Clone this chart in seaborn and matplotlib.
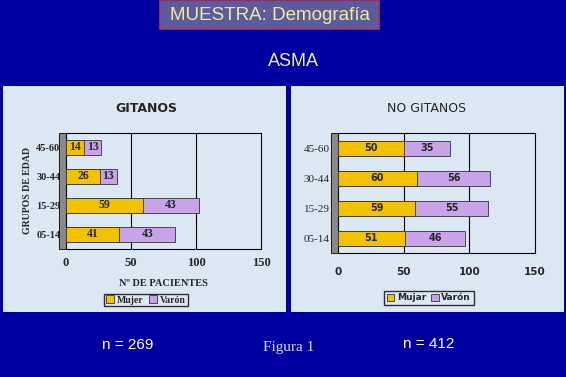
import numpy as np
import pandas as pd
import matplotlib
matplotlib.use('Agg')
import matplotlib.pyplot as plt
from matplotlib.patches import Rectangle
import seaborn as sns

# datos
grupos = ['45-60', '30-44', '15-29', '05-14']
gitanos_mujer = [14, 26, 59, 41]
gitanos_varon = [13, 13, 43, 43]
nogit_mujer = [50, 60, 59, 51]
nogit_varon = [35, 56, 55, 46]
ticks_x = [0, 50, 100, 150]

c_mujer = '#f2c200'
c_varon = '#c9a3ea'
fondo = '#0000a0'
panel = '#dce7f4'

sns.set_style('white')
plt.rcParams['font.family'] = ['DejaVu Sans']

fig = plt.figure(figsize=(5.66, 3.77), dpi=100)
fig.patch.set_facecolor(fondo)

W, H = 566.0, 377.0
def rect(x0, y0, x1, y1):
    return [x0 / W, 1 - y1 / H, (x1 - x0) / W, (y1 - y0) / H]

# paneles de fondo
for (x0, y0, x1, y1) in [(3, 86, 286, 312), (291, 86, 564, 312)]:
    r = rect(x0, y0, x1, y1)
    fig.patches.append(Rectangle((r[0], r[1]), r[2], r[3], transform=fig.transFigure,
                                 facecolor=panel, edgecolor='none', zorder=-5))

# cabecera
r = rect(160, 1, 379, 29)
fig.patches.append(Rectangle((r[0], r[1]), r[2], r[3], transform=fig.transFigure,
                             facecolor='#5c5c9c', edgecolor='#a04060', lw=1.2, zorder=-5))
fig.text(270 / W, 1 - 15 / H, 'MUESTRA: Demografía', ha='center', va='center',
         color='#eeee99', fontsize=13.5, family='Liberation Sans')
fig.text(293 / W, 1 - 61 / H, 'ASMA', ha='center', va='center',
         color='#eeee99', fontsize=13, family='Liberation Sans')


def dibuja(ax, mujer, varon, fnt_val, sz_val):
    df = pd.DataFrame({'grupo': grupos, 'Mujer': mujer, 'Varón': varon})
    df['total'] = df['Mujer'] + df['Varón']
    ax.set_facecolor('none')
    sns.barplot(data=df, y='grupo', x='total', color=c_varon, width=0.5,
                edgecolor='#333333', linewidth=0.6, saturation=1, ax=ax, zorder=3)
    sns.barplot(data=df, y='grupo', x='Mujer', color=c_mujer, width=0.5,
                edgecolor='#333333', linewidth=0.6, saturation=1, ax=ax, zorder=4)
    for i, row in df.iterrows():
        ax.text(row['Mujer'] / 2, i, str(row['Mujer']), ha='center', va='center',
                fontsize=sz_val, fontweight='bold', family=fnt_val, zorder=5)
        ax.text(row['Mujer'] + row['Varón'] / 2, i, str(row['Varón']), ha='center',
                va='center', fontsize=sz_val, fontweight='bold', family=fnt_val, zorder=5)
    ax.set_xlim(0, 150)
    ax.set_ylim(3.5, -0.5)
    ax.set_xticks(ticks_x)
    for v in [50, 100]:
        ax.axvline(v, color='black', lw=0.8, zorder=1)
    for s in ax.spines.values():
        s.set_color('black')
        s.set_linewidth(0.8)
    ax.add_patch(Rectangle((-0.035, 0), 0.035, 1, transform=ax.transAxes,
                           facecolor='#8a8a8a', edgecolor='black', lw=0.6, clip_on=False))
    ax.tick_params(axis='both', length=0, pad=6)
    ax.set_xlabel('')
    ax.set_ylabel('')
    return df


# GITANOS
ax1 = fig.add_axes(rect(66, 133, 261, 249))
dibuja(ax1, gitanos_mujer, gitanos_varon, 'Liberation Serif', 8.5)
ax1.set_xticklabels([str(t) for t in ticks_x], family='Liberation Serif',
                    fontweight='bold', fontsize=9)
ax1.set_yticklabels(grupos, family='Liberation Serif', fontweight='bold', fontsize=7.5)
ax1.tick_params(axis='y', pad=4)
ax1.set_title('GITANOS', fontsize=9, fontweight='bold', pad=15, x=0.41)
ax1.set_xlabel('Nº DE PACIENTES', family='Liberation Serif', fontweight='bold',
               fontsize=7.5, labelpad=7)
ax1.set_ylabel('GRUPOS DE EDAD', family='Liberation Serif', fontweight='bold',
               fontsize=7, labelpad=3)
h1 = [Rectangle((0, 0), 1, 1, fc=c_mujer, ec='#333333', lw=0.6),
      Rectangle((0, 0), 1, 1, fc=c_varon, ec='#333333', lw=0.6)]
leg = ax1.legend(h1, ['Mujer', 'Varón'], loc='center', bbox_to_anchor=(146 / W, 1 - 300 / H),
                 bbox_transform=fig.transFigure, ncol=2, frameon=True, fancybox=False,
                 handlelength=0.8, handleheight=0.8, handletextpad=0.3, columnspacing=0.6,
                 borderpad=0.2, prop={'family': 'Liberation Serif', 'weight': 'bold', 'size': 7})
leg.get_frame().set_edgecolor('black')
leg.get_frame().set_facecolor(panel)

# NO GITANOS
ax2 = fig.add_axes(rect(338, 133, 535, 253))
dibuja(ax2, nogit_mujer, nogit_varon, 'DejaVu Sans', 7)
ax2.set_xticklabels([str(t) for t in ticks_x], family='DejaVu Sans',
                    fontweight='bold', fontsize=7.5)
ax2.set_yticklabels(grupos, family='Liberation Serif', fontsize=8)
ax2.tick_params(axis='x', pad=10)
ax2.set_title('NO GITANOS', fontsize=9, pad=15, x=0.45)
h2 = [Rectangle((0, 0), 1, 1, fc=c_mujer, ec='#333333', lw=0.6),
      Rectangle((0, 0), 1, 1, fc=c_varon, ec='#333333', lw=0.6)]
leg2 = ax2.legend(h2, ['Mujar', 'Varón'], loc='center', bbox_to_anchor=(429 / W, 1 - 298 / H),
                  bbox_transform=fig.transFigure, ncol=2, frameon=True, fancybox=False,
                  handlelength=0.8, handleheight=0.8, handletextpad=0.3, columnspacing=0.6,
                  borderpad=0.3, prop={'family': 'DejaVu Sans', 'weight': 'bold', 'size': 6.5})
leg2.get_frame().set_edgecolor('black')
leg2.get_frame().set_facecolor(panel)

# pie
fig.text(128 / W, 1 - 345 / H, 'n = 269', ha='center', va='center', color='white',
         fontsize=11, family='Liberation Sans')
fig.text(289 / W, 1 - 348 / H, 'Figura 1', ha='center', va='center', color='#d8d8f8',
         fontsize=11, family='Liberation Serif')
fig.text(429 / W, 1 - 344 / H, 'n = 412', ha='center', va='center', color='white',
         fontsize=11, family='Liberation Sans')

fig.savefig('out.png', dpi=100, facecolor=fig.get_facecolor())
